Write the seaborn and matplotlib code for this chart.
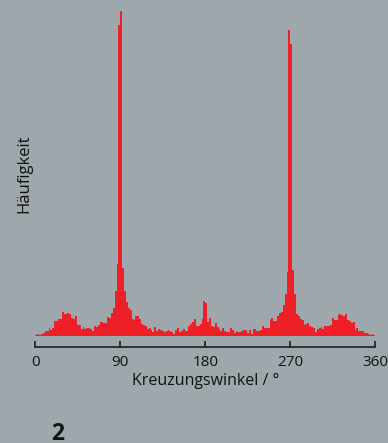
import numpy as np
import pandas as pd
import matplotlib
matplotlib.use("Agg")
import matplotlib.pyplot as plt
import seaborn as sns

# ---- data ----
bin_width = 2  # degrees
frequency = [
    1, 2, 1, 2, 3, 5, 5, 8, 6, 8,
    15, 15, 17, 17, 24, 22, 22, 23, 22, 18,
    17, 20, 11, 11, 7, 9, 7, 8, 8, 7,
    5, 10, 9, 11, 14, 14, 13, 13, 19, 18,
    23, 28, 45, 72, 311, 325, 68, 45, 34, 28,
    26, 17, 16, 20, 20, 17, 12, 11, 10, 7,
    8, 6, 4, 9, 5, 7, 6, 5, 4, 5,
    6, 5, 4, 2, 6, 8, 4, 5, 7, 5,
    5, 10, 12, 14, 17, 10, 10, 12, 17, 35,
    33, 14, 18, 10, 9, 13, 9, 7, 5, 8,
    5, 4, 4, 8, 6, 3, 5, 4, 4, 5,
    6, 6, 3, 6, 2, 7, 7, 5, 5, 6,
    10, 8, 8, 8, 16, 18, 15, 15, 20, 23,
    24, 31, 42, 64, 306, 292, 66, 42, 22, 20,
    17, 16, 11, 12, 13, 10, 9, 8, 4, 7,
    8, 9, 7, 10, 10, 10, 11, 18, 16, 16,
    21, 22, 21, 20, 22, 16, 15, 13, 14, 6,
    8, 5, 5, 5, 3, 3, 2, 1, 2, 1,
]
x_ticks = [0, 90, 180, 270, 360]
x_label = "Kreuzungswinkel / °"
y_label = "Häufigkeit"
panel_label = "2"

bin_centers = np.arange(len(frequency)) * bin_width + bin_width / 2
df = pd.DataFrame({"angle": bin_centers, "freq": frequency})

# ---- style ----
bg = "#9ea8ac"
red = "#ee1f27"
ink = "#111111"
plt.rcParams["font.family"] = ["Open Sans", "DejaVu Sans"]

fig = plt.figure(figsize=(3.88, 4.43), dpi=100, facecolor=bg)
W, H = 388, 443
x0, x1 = 35.3, 375.3
base_y = 335.7
ax = fig.add_axes([x0 / W, (H - base_y) / H, (x1 - x0) / W, base_y / H])
ax.set_facecolor(bg)

sns.histplot(data=df, x="angle", weights="freq",
             bins=len(frequency), binrange=(0, 360),
             color=red, alpha=1, linewidth=0, ax=ax)

ax.set_xlim(0, 360)
ax.set_ylim(0, base_y)

for s in ["left", "right", "top"]:
    ax.spines[s].set_visible(False)
ax.spines["bottom"].set_position(("outward", 8.0))
ax.spines["bottom"].set_linewidth(1.1)
ax.spines["bottom"].set_color(ink)

ax.set_xticks(x_ticks)
ax.set_xticklabels([str(t) for t in x_ticks])
ax.tick_params(axis="x", direction="in", length=4, width=1.1, color=ink,
               labelsize=11, pad=6, labelcolor=ink)
ax.set_yticks([])
ax.set_xlabel(x_label, fontsize=11.5, color=ink, labelpad=2)
ax.set_ylabel(y_label, fontsize=12, color=ink)
ax.yaxis.set_label_coords((32 - x0) / (x1 - x0), (base_y - 174) / base_y)

fig.text(51.5 / W, (H - 440) / H, panel_label, fontsize=16.5, fontweight="bold",
         color=ink, ha="left", va="baseline")

fig.savefig("out.png", dpi=100, facecolor=bg)
